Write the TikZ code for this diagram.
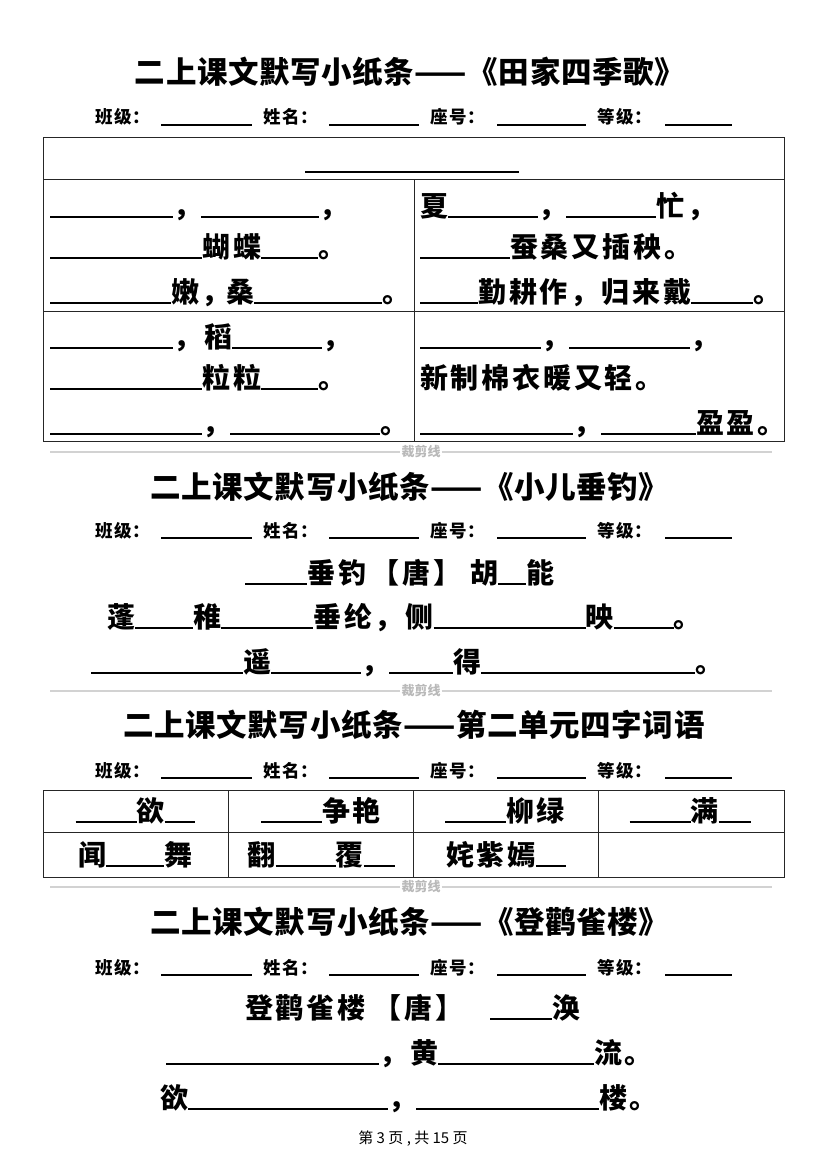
\documentclass[tikz,border=0pt]{standalone}
\usepackage{fontspec}
\setmainfont{Noto Sans CJK SC}
\newfontfamily\titlefont{Noto Sans CJK SC}[LetterSpace=2]
\newfontfamily\cellfont{Noto Sans CJK SC}[LetterSpace=10]
\newfontfamily\infofont{Noto Sans CJK SC}[LetterSpace=8]
\newcommand\bl[1]{\rule[-2pt]{#1pt}{1.8pt}}
\newcommand\infoline[2]{%
 \node[info] (#1c) at (95,#2) {班级：};
 \node[info] (#1cb) at (161,#2) {\bl{91}};
 \node[info] (#1n) at (263,#2) {姓名：};
 \node[info] (#1nb) at (329,#2) {\bl{90}};
 \node[info] (#1s) at (430,#2) {座号：};
 \node[info] (#1sb) at (497,#2) {\bl{89}};
 \node[info] (#1g) at (597,#2) {等级：};
 \node[info] (#1gb) at (665,#2) {\bl{67}};}
\newcommand\cutline[2]{%
 \coordinate (#1l) at (50,#2);
 \coordinate (#1r) at (772,#2);
 \node[cutlbl] (#1) at (421,#2) {裁剪线};
 \draw[cutstroke] (#1l) -- (#1.west);
 \draw[cutstroke] (#1.east) -- (#1r);}
\tikzset{
 title/.style={anchor=base, inner sep=0pt, font=\titlefont\fontsize{30.5}{30.5}\selectfont\bfseries},
 info/.style={anchor=base west, inner sep=0pt, font=\infofont\fontsize{17.5}{17.5}\selectfont\bfseries},
 txt/.style={anchor=base west, inner sep=0pt, font=\cellfont\fontsize{28}{28}\selectfont\bfseries},
 ctxt/.style={txt, anchor=base},
 cutlbl/.style={inner sep=1pt, text=gray!55, font=\fontsize{13}{13}\selectfont\bfseries},
 cutstroke/.style={draw=gray!35, line width=1.5pt},
 frame/.style={draw=black!85, line width=1pt},
 foot/.style={anchor=base, inner sep=0pt, font=\fontsize{15}{15}\selectfont}
}
\begin{document}
\begin{tikzpicture}[x=1pt,y=-1pt]
\useasboundingbox[fill=white] (0,0) rectangle (827,1169);

% ---------- section 1 ----------
\node[title] (t1) at (410,84) {二上课文默写小纸条——《田家四季歌》};
\infoline{a}{124}
\draw[frame] (43,138) rectangle (784,441);
\draw[frame] (43,180) -- (784,180);
\draw[frame] (43,311) -- (784,311);
\draw[frame] (414,180) -- (414,441);
\node[ctxt] (hdr) at (412,171) {\bl{214}};
% row 1 left
\node[txt] (r1l1) at (50,216) {\bl{123}，\bl{118}，};
\node[txt] (r1l2) at (50,257) {\bl{152}蝴蝶\bl{57}。};
\node[txt] (r1l3) at (50,302) {\bl{121}嫩，\hspace{-4pt}桑\bl{128}。};
% row 1 right
\node[txt] (r1r1) at (420,216) {夏\bl{90}，\bl{90}忙，};
\node[txt] (r1r2) at (420,257) {\bl{90}蚕桑又插秧。};
\node[txt] (r1r3) at (420,302) {\bl{58}勤耕作，归来戴\bl{62}。};
% row 2 left
\node[txt] (r2l1) at (50,347) {\bl{123}，稻\bl{90}，};
\node[txt] (r2l2) at (50,388) {\bl{152}粒粒\bl{57}。};
\node[txt] (r2l3) at (50,433) {\bl{152}，\bl{150}。};
% row 2 right
\node[txt] (r2r1) at (420,347) {\bl{121}，\bl{121}，};
\node[txt] (r2r2) at (420,388) {新制棉衣暖又轻。};
\node[txt] (r2r3) at (420,433) {\bl{153}，\bl{95}盈盈。};

\cutline{cut1}{452}

% ---------- section 2 ----------
\node[title] (t2) at (410,498) {二上课文默写小纸条——《小儿垂钓》};
\infoline{b}{537}
\node[txt] (p1a) at (245,583) {\bl{62}垂钓\hspace{6pt}【唐】};
\node[txt] (p1b) at (470,583) {胡\bl{28}能};
\node[txt] (p2) at (107,627) {蓬\bl{58}稚\bl{92}垂纶，侧\bl{152}映\bl{60}。};
\node[txt] (p3) at (91,672) {\bl{152}遥\bl{90}，\bl{64}得\bl{214}。};

\cutline{cut2}{691}

% ---------- section 3 ----------
\node[title] (t3) at (414,736) {二上课文默写小纸条——第二单元四字词语};
\infoline{c}{777}
\draw[frame] (43,790) rectangle (784,877);
\draw[frame] (43,832) -- (784,832);
\draw[frame] (228,790) -- (228,877);
\draw[frame] (413,790) -- (413,877);
\draw[frame] (598,790) -- (598,877);
\node[ctxt] (w1) at (135,821) {\bl{61}欲\bl{30}};
\node[ctxt] (w2) at (321,821) {\bl{61}争艳};
\node[ctxt] (w3) at (505,821) {\bl{61}柳绿};
\node[ctxt] (w4) at (690,821) {\bl{61}满\bl{32}};
\node[ctxt] (w5) at (135,865) {闻\bl{58}舞};
\node[ctxt] (w6) at (321,865) {翻\bl{60}覆\bl{31}};
\node[ctxt] (w7) at (506,865) {姹紫嫣\bl{30}};

\cutline{cut3}{887}

% ---------- section 4 ----------
\node[title] (t4) at (410,933) {二上课文默写小纸条——《登鹳雀楼》};
\infoline{d}{974}
\node[txt] (q1a) at (245,1018) {登鹳雀楼\hspace{8pt}【唐】};
\node[txt] (q1b) at (490,1018) {\bl{62}涣};
\node[txt] (q2) at (166,1063) {\bl{213}，黄\bl{156}流。};
\node[txt] (q3) at (160,1108) {欲\bl{200}，\bl{183}楼。};

\node[foot] (ft) at (413,1143) {第 3 页 , 共 15 页};
\end{tikzpicture}
\end{document}
